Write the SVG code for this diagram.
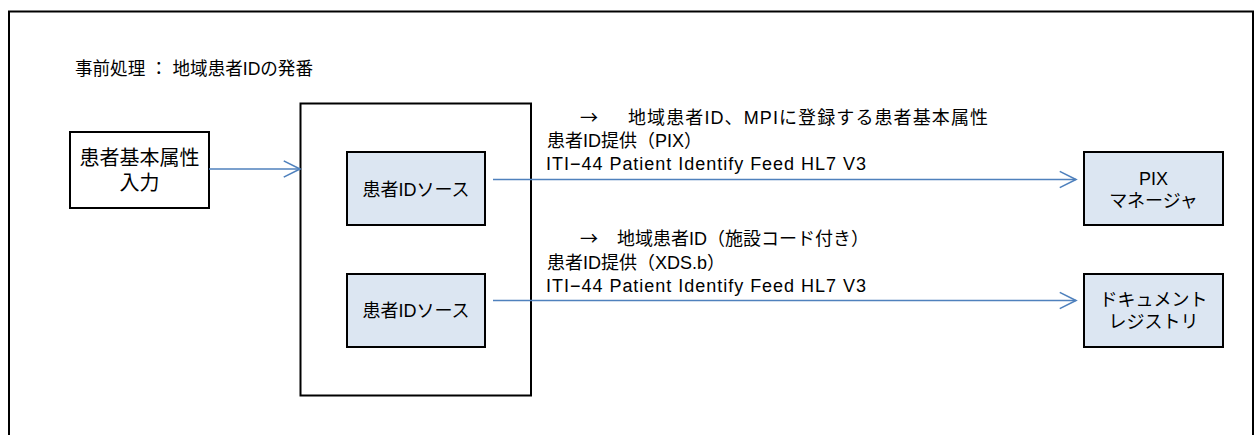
<svg xmlns="http://www.w3.org/2000/svg" width="1257" height="435" viewBox="0 0 1257 435">
  <defs>
    <style>
      .frame { fill: #ffffff; stroke: #000000; stroke-width: 2; }
      .box { fill: #ffffff; stroke: #000000; stroke-width: 2; }
      .actor { fill: #dce6f2; stroke: #000000; stroke-width: 2; }
      .t { font-family: "Liberation Sans", "Noto Sans CJK JP", sans-serif; font-size: 18px; fill: #000000; }
      .big { font-size: 20px; }
      .arr { font-family: "Noto Sans CJK JP", sans-serif; }
      .c { text-anchor: middle; }
      .conn { fill: none; stroke: #4f81bd; stroke-width: 1.3; }
    </style>
    <marker id="open" markerUnits="userSpaceOnUse" markerWidth="20" markerHeight="20" viewBox="-14 -8 16 16" refX="0" refY="0" orient="auto">
      <path d="M-13,-6.5 L0,0 L-13,6.5" fill="none" stroke="#4f81bd" stroke-width="1.3"/>
    </marker>
  </defs>
  <rect width="1257" height="435" fill="#ffffff"/>
  <rect id="frame" class="frame" x="9" y="11.5" width="1244" height="440"/>
  <text id="title" class="t" x="75" y="75" textLength="238" lengthAdjust="spacingAndGlyphs">事前処理 ： 地域患者IDの発番</text>

  <g id="input">
    <rect class="box" x="70" y="132" width="139" height="76"/>
    <text class="t c big" x="139.5" y="165">患者基本属性</text>
    <text class="t c big" x="139.5" y="190">入力</text>
  </g>

  <g id="source-group">
    <rect class="box" x="300.5" y="103.5" width="230.5" height="292"/>
  </g>

  <g id="source1">
    <rect class="actor" x="347" y="152" width="138" height="73"/>
    <text class="t c" x="416" y="195.5">患者IDソース</text>
  </g>

  <g id="source2">
    <rect class="actor" x="347" y="274" width="138" height="73"/>
    <text class="t c" x="416" y="317">患者IDソース</text>
  </g>

  <g id="pix-manager">
    <rect class="actor" x="1084" y="152" width="139" height="73"/>
    <text class="t c" x="1153.5" y="184.5">PIX</text>
    <text class="t c" x="1153.5" y="207">マネージャ</text>
  </g>

  <g id="doc-registry">
    <rect class="actor" x="1084" y="274" width="139" height="73"/>
    <text class="t c" x="1153.5" y="305.5">ドキュメント</text>
    <text class="t c" x="1153.5" y="328">レジストリ</text>
  </g>

  <g id="connectors">
    <line class="conn" x1="209" y1="169" x2="300" y2="169" marker-end="url(#open)"/>
    <line class="conn" x1="493" y1="179.5" x2="1076" y2="179.5" marker-end="url(#open)"/>
    <line class="conn" x1="493" y1="300.5" x2="1076" y2="300.5" marker-end="url(#open)"/>
  </g>

  <g id="label-pix">
    <text class="t" y="124"><tspan class="arr" x="580">→</tspan><tspan x="628" textLength="360" lengthAdjust="spacing">地域患者ID、MPIに登録する患者基本属性</tspan></text>
    <text class="t" x="547" y="147">患者ID提供（PIX）</text>
    <text class="t" x="546" y="170" textLength="320" lengthAdjust="spacing">ITI−44  Patient Identify Feed HL7 V3</text>
  </g>

  <g id="label-xds">
    <text class="t" y="245"><tspan class="arr" x="580">→</tspan><tspan x="617">地域患者ID（施設コード付き）</tspan></text>
    <text class="t" x="547" y="269">患者ID提供（XDS.b）</text>
    <text class="t" x="546" y="292" textLength="320" lengthAdjust="spacing">ITI−44  Patient Identify Feed HL7 V3</text>
  </g>
</svg>
